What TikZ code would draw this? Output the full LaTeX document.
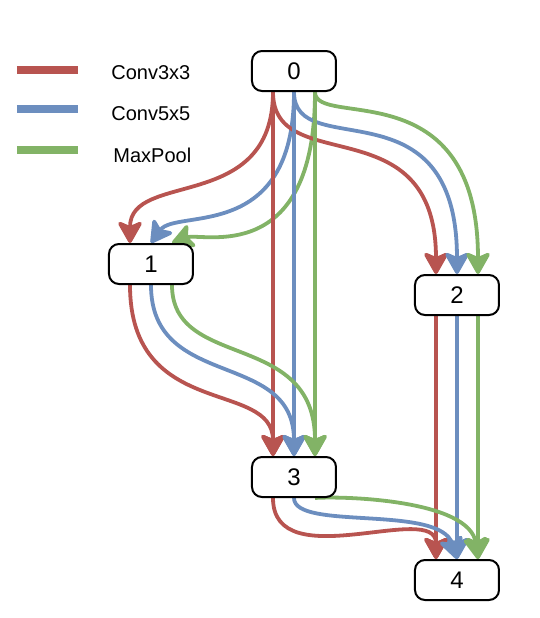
\documentclass[tikz,border=0pt]{standalone}
\usepackage{fontspec}
\setmainfont{Liberation Sans}
\usetikzlibrary{arrows.meta, positioning, backgrounds}
\definecolor{opred}{HTML}{B85450}
\definecolor{opblue}{HTML}{6C8EBF}
\definecolor{opgreen}{HTML}{82B366}

\tikzset{
  cell/.style={draw, line width=1pt, rounded corners=5pt, fill=white,
    minimum width=42pt, minimum height=20pt, font=\fontsize{12}{14}\selectfont},
  flowtip/.tip={Stealth[length=12.5pt, width=14pt, inset=3pt, round=false]},
  flow/.style={line width=1.9pt, -flowtip},
  conv3/.style={flow, draw=opred},
  conv5/.style={flow, draw=opblue},
  maxpool/.style={flow, draw=opgreen},
  legbar/.style={line width=4pt}
}

\begin{document}
\begin{tikzpicture}[x=0.5pt, y=-0.5pt]
        \useasboundingbox (0,0) rectangle (540,618);
        % legend
        \draw[legbar, opred] (17,70) -- (78,70);
        \draw[legbar, opblue] (17,109) -- (78,109);
        \draw[legbar, opgreen] (17,150) -- (78,150);
        \node[anchor=west, inner sep=0pt] (lconv3) at (111,73) {Conv3x3};
        \node[anchor=west, inner sep=0pt] (lconv5) at (111,114) {Conv5x5};
        \node[anchor=west, inner sep=0pt] (lpool) at (113,155) {MaxPool};
        % cells
        \node[cell] (n0) at (294,71) {0};
        \node[cell] (n1) at (151,264) {1};
        \node[cell] (n2) at (457,295) {2};
        \node[cell] (n3) at (294,477) {3};
        \node[cell] (n4) at (457,580) {4};
        % ports: r / b / g
        \foreach \n in {0,...,4} {
            \foreach \c/\dx in {r/-10.5pt, b/0pt, g/10.5pt} {
                \coordinate (o\n\c) at ([xshift=\dx]n\n.south);
                \coordinate (i\n\c) at ([xshift=\dx]n\n.north);
            }
        }
        \begin{scope}[on background layer]
        % 0 -> 1, 2, 3
        \draw[conv3] (o0r) .. controls +(0,122) and +(0,-73) .. (i1r);
        \draw[conv5] (o0b) .. controls +(0,152) and +(25,-35) .. (i1b);
        \draw[maxpool] (o0g) .. controls +(0,177) and +(29,-11) .. (i1g);
        \draw[conv3] (o0r) .. controls +(0,87) and +(0,-170) .. (i2r);
        \draw[conv5] (o0b) .. controls +(0,72) and +(0,-195) .. (i2b);
        \draw[maxpool] (o0g) .. controls +(0,37) and +(0,-205) .. (i2g);
        \draw[conv3] (o0r) -- (i3r);
        \draw[conv5] (o0b) -- (i3b);
        \draw[maxpool] (o0g) -- (i3g);
        % 1 -> 3
        \draw[conv3] (o1r) .. controls +(0,136) and +(0,-77) .. (i3r);
        \draw[conv5] (o1b) .. controls +(0,106) and +(0,-107) .. (i3b);
        \draw[maxpool] (o1g) .. controls +(0,86) and +(0,-127) .. (i3g);
        % 2 -> 4
        \draw[conv3] (o2r) -- (i4r);
        \draw[conv5] (o2b) -- (i4b);
        \draw[maxpool] (o2g) -- (i4g);
        % 3 -> 4
        \draw[conv3] (o3r) .. controls +(0,80) and +(0,-59) .. (i4r);
        \draw[conv5] (o3b) .. controls +(0,33) and +(-17,-55) .. (i4b);
        \draw[maxpool] (o3g) .. controls +(25,-2) and +(-8,-60) .. (i4g);
        \end{scope}
    \end{tikzpicture}
\end{document}
